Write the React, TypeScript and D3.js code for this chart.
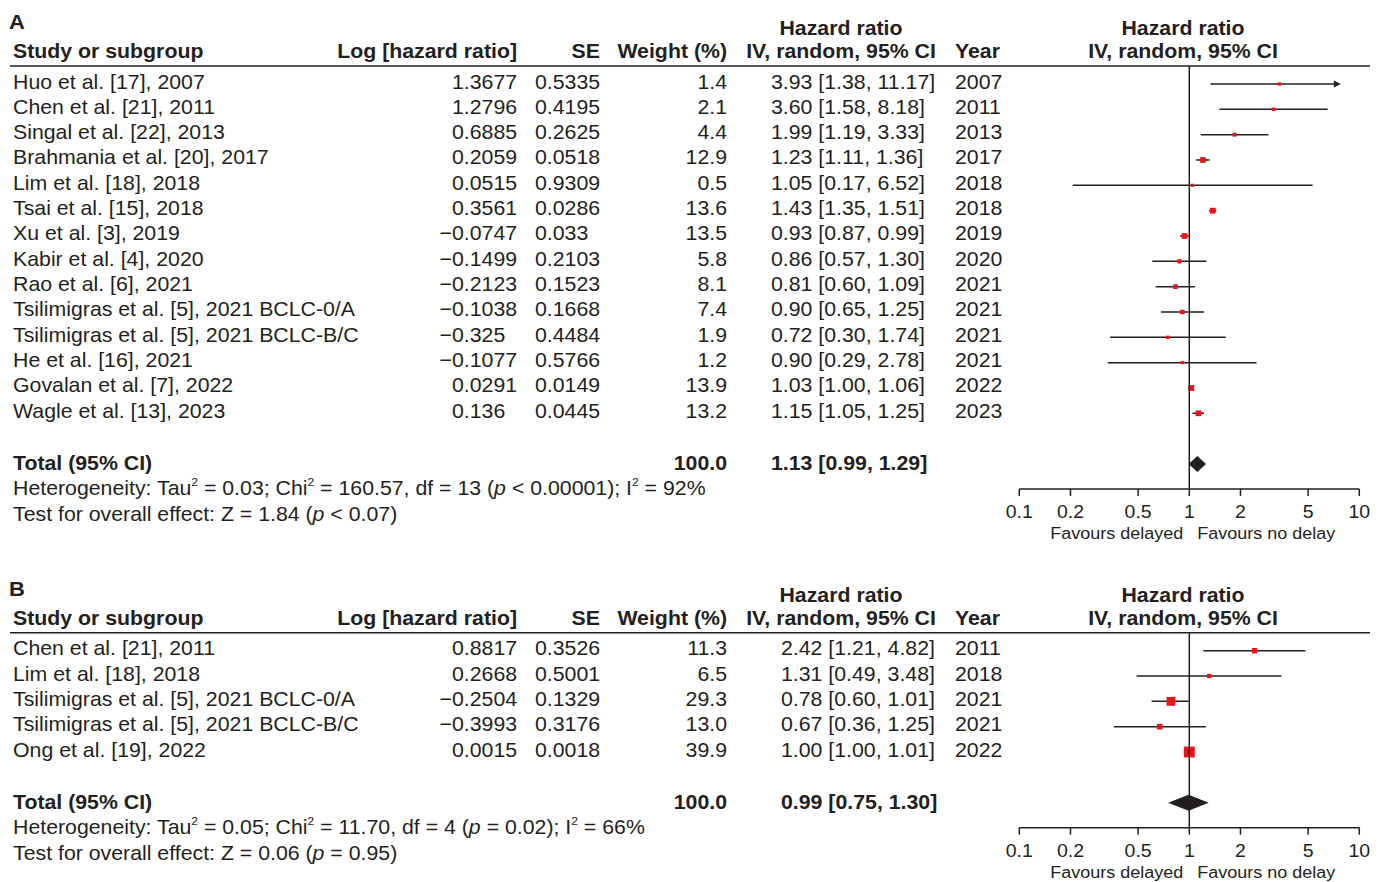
import React from 'react';
import * as d3 from 'd3';

// ---- panel A data ----
const studiesA = [
  'Huo et al. [17], 2007',
  'Chen et al. [21], 2011',
  'Singal et al. [22], 2013',
  'Brahmania et al. [20], 2017',
  'Lim et al. [18], 2018',
  'Tsai et al. [15], 2018',
  'Xu et al. [3], 2019',
  'Kabir et al. [4], 2020',
  'Rao et al. [6], 2021',
  'Tsilimigras et al. [5], 2021 BCLC-0/A',
  'Tsilimigras et al. [5], 2021 BCLC-B/C',
  'He et al. [16], 2021',
  'Govalan et al. [7], 2022',
  'Wagle et al. [13], 2023',
];
const logHrA = [1.3677, 1.2796, 0.6885, 0.2059, 0.0515, 0.3561, -0.0747, -0.1499, -0.2123, -0.1038, -0.325, -0.1077, 0.0291, 0.136];
const seA = [0.5335, 0.4195, 0.2625, 0.0518, 0.9309, 0.0286, 0.033, 0.2103, 0.1523, 0.1668, 0.4484, 0.5766, 0.0149, 0.0445];
const weightA = [1.4, 2.1, 4.4, 12.9, 0.5, 13.6, 13.5, 5.8, 8.1, 7.4, 1.9, 1.2, 13.9, 13.2];
const hrA = [3.93, 3.6, 1.99, 1.23, 1.05, 1.43, 0.93, 0.86, 0.81, 0.9, 0.72, 0.9, 1.03, 1.15];
const lowerA = [1.38, 1.58, 1.19, 1.11, 0.17, 1.35, 0.87, 0.57, 0.6, 0.65, 0.3, 0.29, 1.0, 1.05];
const upperA = [11.17, 8.18, 3.33, 1.36, 6.52, 1.51, 0.99, 1.3, 1.09, 1.25, 1.74, 2.78, 1.06, 1.25];
const yearA = [2007, 2011, 2013, 2017, 2018, 2018, 2019, 2020, 2021, 2021, 2021, 2021, 2022, 2023];
const totalA = [1.13, 0.99, 1.29];
const hetA = ['Heterogeneity: Tau', '^2', ' = 0.03; Chi', '^2', ' = 160.57, df = 13 (', '_p', ' < 0.00001); I', '^2', ' = 92%'];
const testA = ['Test for overall effect: Z = 1.84 (', '_p', ' < 0.07)'];

// ---- panel B data ----
const studiesB = [
  'Chen et al. [21], 2011',
  'Lim et al. [18], 2018',
  'Tsilimigras et al. [5], 2021 BCLC-0/A',
  'Tsilimigras et al. [5], 2021 BCLC-B/C',
  'Ong et al. [19], 2022',
];
const logHrB = [0.8817, 0.2668, -0.2504, -0.3993, 0.0015];
const seB = [0.3526, 0.5001, 0.1329, 0.3176, 0.0018];
const weightB = [11.3, 6.5, 29.3, 13.0, 39.9];
const hrB = [2.42, 1.31, 0.78, 0.67, 1.0];
const lowerB = [1.21, 0.49, 0.6, 0.36, 1.0];
const upperB = [4.82, 3.48, 1.01, 1.25, 1.01];
const yearB = [2011, 2018, 2021, 2021, 2022];
const totalB = [0.99, 0.75, 1.3];
const hetB = ['Heterogeneity: Tau', '^2', ' = 0.05; Chi', '^2', ' = 11.70, df = 4 (', '_p', ' = 0.02); I', '^2', ' = 66%'];
const testB = ['Test for overall effect: Z = 0.06 (', '_p', ' = 0.95)'];

const axisTicks = [0.1, 0.2, 0.5, 1, 2, 5, 10];

const INK = '#231f20';
const RED = '#e8141c';
const FONT = '"Liberation Sans", Arial, Helvetica, sans-serif';
const FS = 21.3;

const axisScale = d3.scaleLog().domain([0.1, 10]).range([1019.3, 1359.3]);
// panel A's markers were drawn on a slightly narrower scale than its axis
const dataScaleA = d3.scaleLog().domain([0.1, 10]).range([1037.8, 1340.8]);
const boxSize = d3.scaleLinear().domain([0, 40]).range([3.1, 10.9]);

const T = ({x, y, anchor = 'start', bold = false, size = FS, children}: any) => (
  <text
    transform={`translate(${x},${y}) scale(1,0.95)`}
    textAnchor={anchor}
    fontWeight={bold ? 'bold' : 'normal'}
    fontSize={size}
    fill={INK}
  >
    {children}
  </text>
);

const Rich = ({parts}: {parts: string[]}) => {
  let shift = 0;
  return (
    <>
      {parts.map((p, i) => {
        if (p.startsWith('^')) {
          shift = -9;
          return <tspan key={i} dy={-9} fontSize={12}>{p.slice(1)}</tspan>;
        }
        const dy = -shift;
        shift = 0;
        if (p.startsWith('_')) return <tspan key={i} dy={dy} fontStyle="italic">{p.slice(1)}</tspan>;
        return <tspan key={i} dy={dy}>{p}</tspan>;
      })}
    </>
  );
};

const fmtCI = (h: number, l: number, u: number) => `${h.toFixed(2)} [${l.toFixed(2)}, ${u.toFixed(2)}]`;

const Panel = ({label, top, studies, logHr, se, weight, hr, lower, upper, year, total, het, test, xData, ciX}: any) => {
  const rowY = (i: number) => top + 18 + 25.33 * i;
  const n = studies.length;
  const totalY = rowY(n - 1) + 50.67;
  const axisY = totalY + 25;
  const x1 = xData(1);

  return (
    <g>
      <T x={9} y={top - 37} bold size={22}>{label}</T>
      <T x={841} y={top - 31} anchor="middle" bold>Hazard ratio</T>
      <T x={1183} y={top - 31} anchor="middle" bold>Hazard ratio</T>
      <T x={13} y={top - 8} bold>Study or subgroup</T>
      <T x={517} y={top - 8} anchor="end" bold>Log [hazard ratio]</T>
      <T x={600} y={top - 8} anchor="end" bold>SE</T>
      <T x={727} y={top - 8} anchor="end" bold>Weight (%)</T>
      <T x={841} y={top - 8} anchor="middle" bold>IV, random, 95% CI</T>
      <T x={955} y={top - 8} bold>Year</T>
      <T x={1183} y={top - 8} anchor="middle" bold>IV, random, 95% CI</T>
      <line x1={10} x2={1370} y1={top} y2={top} stroke={INK} strokeWidth={1.6} />

      {studies.map((s: string, i: number) => {
        const y = rowY(i);
        const base = y + 4.5;
        const neg = logHr[i] < 0;
        const hi = Math.min(upper[i], 10);
        const clipped = upper[i] > 10;
        const sz = boxSize(weight[i]);
        return (
          <g key={s + i}>
            <T x={13} y={base}>{s}</T>
            <T x={452 - (neg ? 0.584 * FS : 0)} y={base}>{(neg ? '\u2212' : '') + Math.abs(logHr[i])}</T>
            <T x={535} y={base}>{String(se[i])}</T>
            <T x={727} y={base} anchor="end">{weight[i].toFixed(1)}</T>
            <T x={ciX} y={base}>{fmtCI(hr[i], lower[i], upper[i])}</T>
            <T x={955} y={base}>{year[i]}</T>
            <line
              x1={xData(lower[i])}
              x2={clipped ? xData(hi) - 6 : xData(hi)}
              y1={y}
              y2={y}
              stroke={INK}
              strokeWidth={1.5}
            />
            {clipped && (
              <path d={`M${xData(hi)},${y}L${xData(hi) - 7},${y - 3.5}L${xData(hi) - 7},${y + 3.5}Z`} fill={INK} />
            )}
            <rect x={xData(hr[i]) - sz / 2} y={y - sz / 2} width={sz} height={sz} fill={RED} />
          </g>
        );
      })}

      <T x={13} y={totalY + 6} bold>Total (95% CI)</T>
      <T x={727} y={totalY + 6} anchor="end" bold>100.0</T>
      <T x={ciX} y={totalY + 6} bold>{fmtCI(total[0], total[1], total[2])}</T>
      <T x={13} y={totalY + 31}><Rich parts={het} /></T>
      <T x={13} y={totalY + 57}><Rich parts={test} /></T>

      <line x1={x1} x2={x1} y1={top} y2={axisY} stroke={INK} strokeWidth={1.5} />
      <path
        d={`M${xData(total[1])},${totalY}L${xData(total[0])},${totalY - 8}L${xData(total[2])},${totalY}L${xData(total[0])},${totalY + 8}Z`}
        fill={INK}
      />

      <line x1={axisScale(0.1)} x2={axisScale(10)} y1={axisY} y2={axisY} stroke={INK} strokeWidth={1.5} />
      {axisTicks.map((t) => (
        <g key={t}>
          <line x1={axisScale(t)} x2={axisScale(t)} y1={axisY} y2={axisY + 7} stroke={INK} strokeWidth={1.5} />
          <T x={axisScale(t)} y={axisY + 29.5} anchor="middle" size={19.5}>{String(t)}</T>
        </g>
      ))}
      <T x={axisScale(1) - 6} y={axisY + 50} anchor="end" size={18}>Favours delayed</T>
      <T x={axisScale(1) + 8} y={axisY + 50} size={18}>Favours no delay</T>
    </g>
  );
};

export default function App() {
  return (
    <svg
      width={1386}
      height={882}
      style={{position: 'absolute', left: 0, top: 0, display: 'block', background: '#fff'}}
      fontFamily={FONT}
    >
      <rect width={1386} height={882} fill="#fff" />
      <Panel
        label="A" top={66} studies={studiesA} logHr={logHrA} se={seA} weight={weightA}
        hr={hrA} lower={lowerA} upper={upperA} year={yearA} total={totalA}
        het={hetA} test={testA} xData={dataScaleA} ciX={771}
      />
      <Panel
        label="B" top={632.7} studies={studiesB} logHr={logHrB} se={seB} weight={weightB}
        hr={hrB} lower={lowerB} upper={upperB} year={yearB} total={totalB}
        het={hetB} test={testB} xData={axisScale} ciX={781}
      />
    </svg>
  );
}
